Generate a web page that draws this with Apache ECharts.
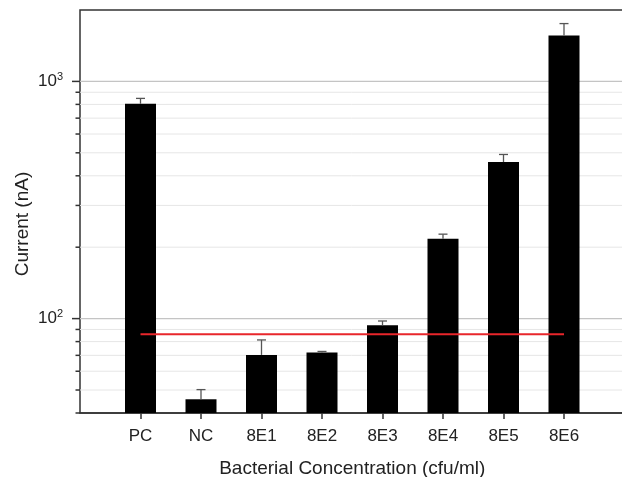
<!DOCTYPE html>
<html>
<head>
<meta charset="utf-8">
<script src="https://cdn.jsdelivr.net/npm/echarts@6/dist/echarts.min.js"></script>
<style>
html,body{margin:0;padding:0;background:#fff;}
#chart{width:622px;height:477px;}
</style>
</head>
<body>
<div id="chart"></div>
<script>
// ---- data ----
const groups = ['PC', 'NC', '8E1', '8E2', '8E3', '8E4', '8E5', '8E6'];
const current = [805, 45.7, 70.3, 71.9, 93.7, 217, 457, 1563];
const errorUp = [43, 4.5, 11, 0.8, 4, 10, 35, 190];
const thresholdValue = 86;
const majorTicks = [100, 1000];
const minorTicks = [40, 50, 60, 70, 80, 90, 200, 300, 400, 500, 600, 700, 800, 900];

// padded category list so the axis spans one empty slot either side
const axisCategories = [''].concat(groups, ['']);
const barData = [null].concat(current, [null]);
const errData = groups.map((g, i) => [i + 1, current[i], current[i] + errorUp[i]]);
const tickData = majorTicks.map(v => [0, v, 1]).concat(minorTicks.map(v => [0, v, 0]));

const FONT = '"Liberation Sans", Arial, sans-serif';
const chart = echarts.init(document.getElementById('chart'));
chart.setOption({
  animation: false,
  grid: { left: 80, top: 10, width: 544.5, height: 403, outerBoundsMode: 'none', containLabel: false, show: true, borderColor: '#333', borderWidth: 1.5, backgroundColor: 'transparent' },
  xAxis: {
    type: 'category',
    data: axisCategories,
    boundaryGap: false,
    name: 'Bacterial Concentration (cfu/ml)',
    nameLocation: 'middle',
    nameGap: 46,
    nameMoveOverlap: false,
    nameTextStyle: { fontFamily: FONT, fontSize: 19, color: '#222' },
    axisLine: { lineStyle: { color: '#333', width: 1.5 } },
    axisTick: { length: 6, lineStyle: { color: '#333', width: 1.5 }, interval: (i, v) => v !== '' },
    axisLabel: { fontFamily: FONT, fontSize: 17, color: '#222', margin: 15, interval: 0 },
    splitLine: { show: false }
  },
  yAxis: {
    type: 'log',
    logBase: 10,
    min: 40,
    max: 2000,
    name: 'Current (nA)',
    nameLocation: 'middle',
    nameRotate: 90,
    nameGap: 48,
    nameMoveOverlap: false,
    nameTextStyle: { fontFamily: FONT, fontSize: 19, color: '#222', padding: [0, 25, 0, 0] },
    axisLine: { lineStyle: { color: '#333', width: 1.5 } },
    axisTick: { show: false },
    splitLine: { show: false },
    axisLabel: {
      margin: 17,
      color: '#222',
      fontFamily: FONT,
      fontSize: 17,
      formatter: function (v) {
        const e = Math.log10(v);
        if (Math.abs(e - Math.round(e)) < 1e-6 && (Math.round(e) === 2 || Math.round(e) === 3)) {
          return '10{s|' + Math.round(e) + '}';
        }
        return '';
      },
      rich: {
        s: { fontFamily: FONT, fontSize: 11, color: '#222', verticalAlign: 'top', padding: [0, 0, 9, 0] }
      }
    }
  },
  series: [
    {
      type: 'custom',
      z: 1,
      silent: true,
      data: tickData,
      renderItem: function (params, api) {
        const cs = params.coordSys;
        const v = api.value(1);
        const major = api.value(2) === 1;
        const y = api.coord([0, v])[1];
        const children = [];
        if (v > 40) {
          children.push({
            type: 'line',
            shape: { x1: cs.x, y1: y, x2: cs.x + cs.width, y2: y },
            style: { stroke: major ? '#c4c4c4' : '#e6e6e6', lineWidth: major ? 1.2 : 1 }
          });
        }
        children.push({
          type: 'line',
          shape: { x1: cs.x - (major ? 8 : 4.5), y1: y, x2: cs.x, y2: y },
          style: { stroke: '#333', lineWidth: 1.5 }
        });
        return { type: 'group', children: children };
      }
    },
    {
      type: 'bar',
      z: 2,
      data: barData,
      barWidth: 31,
      itemStyle: { color: '#000' }
    },
    {
      type: 'custom',
      z: 3,
      silent: true,
      data: errData,
      renderItem: function (params, api) {
        const p0 = api.coord([api.value(0), api.value(1)]);
        const p1 = api.coord([api.value(0), api.value(2)]);
        const hw = 4.5;
        return {
          type: 'group',
          children: [
            { type: 'line', shape: { x1: p0[0], y1: p0[1], x2: p1[0], y2: p1[1] }, style: { stroke: '#555', lineWidth: 1.3 } },
            { type: 'line', shape: { x1: p1[0] - hw, y1: p1[1], x2: p1[0] + hw, y2: p1[1] }, style: { stroke: '#555', lineWidth: 1.3 } }
          ]
        };
      }
    },
    {
      type: 'line',
      z: 4,
      silent: true,
      symbol: 'none',
      data: [[groups[0], thresholdValue], [groups[groups.length - 1], thresholdValue]],
      lineStyle: { color: '#e8262b', width: 2 }
    }
  ]
});
</script>
</body>
</html>
